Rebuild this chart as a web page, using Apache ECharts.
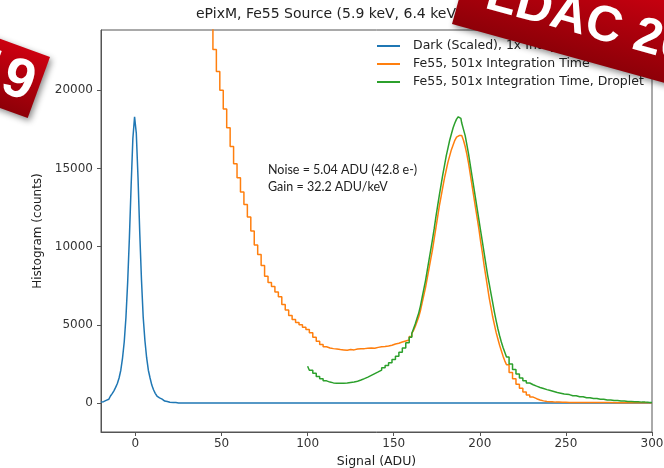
<!DOCTYPE html>
<html>
<head>
<meta charset="utf-8">
<script src="https://cdn.jsdelivr.net/npm/echarts@6/dist/echarts.min.js"></script>
<style>html,body{margin:0;padding:0;background:#fff;}#c{width:664px;height:468px;}</style>
</head>
<body>
<div id="c"></div>
<script>
const titleText = 'ePixM, Fe55 Source (5.9 keV, 6.4 keV)';
const seriesNames = ['Dark (Scaled), 1x Integration Time', 'Fe55, 501x Integration Time', 'Fe55, 501x Integration Time, Droplet'];
const xTicks = [0, 50, 100, 150, 200, 250, 300];
const yTicks = [0, 5000, 10000, 15000, 20000];
const noteLines = ['Noise = 5.04 ADU (42.8 e-)', 'Gain = 32.2 ADU/keV'];

const darkX = [-20,-19,-18,-17,-16,-15,-14,-13,-12,-11,-10,-9,-8,-7,-6,-5,-4,-3,-2,-1,0,1,2,3,4,5,6,7,8,9,10,11,12,13,14,15,16,17,18,19,20,22,25,30,300];
const darkY = [70,90,120,170,240,330,450,600,780,1000,1250,1600,2100,2870,3920,5500,7750,10600,13900,16900,18300,17250,14400,10900,7900,5500,4000,2900,2100,1600,1150,850,620,450,330,250,180,130,100,70,50,30,10,0,0];

const fe55X = [42,44,46,48,50,52,54,56,58,60,62,64,66,68,70,72,74,76,78,80,82,84,86,88,90,92,94,96,98,100,102,104,106,108,110,112,114,116,118,120,122,124,126,128,130,132,134,136,138,140,142,144,146,148,150,152,154,156,158,160,
161,162,163,164,165,166,167,168,169,170,171,172,173,174,175,176,177,178,179,180,181,182,183,184,185,186,187,188,189,190,191,192,193,194,195,196,197,198,199,200,201,202,203,204,205,206,207,208,209,210,211,212,213,214,215,216,218,220,222,224,226,228,230,232,234,236,238,240,244,248,252,260,270,280,290,300];
const fe55Y = [25200,24200,22600,21200,20000,18800,17600,16400,15300,14400,13500,12700,11900,11000,10100,9500,8800,8100,7700,7450,7100,6800,6300,5950,5600,5350,5150,5000,4850,4700,4500,4200,3950,3750,3600,3520,3480,3450,3420,3400,3380,3420,3400,3450,3470,3480,3500,3520,3500,3560,3600,3620,3650,3700,3780,3820,3900,3970,4030,4250,
4450,4650,4900,5200,5500,5900,6400,6900,7400,8000,8600,9200,9800,10500,11200,11900,12600,13200,13800,14400,14900,15400,15800,16200,16500,16800,17000,17100,17100,17000,16800,16400,15900,15300,14600,13900,13200,12500,11800,11100,10300,9600,8800,8100,7400,6700,6100,5500,5000,4500,4100,3700,3350,3000,2700,2450,1950,1550,1200,950,700,520,380,280,200,140,100,80,60,50,40,35,30,25,20,15];

const dropX = [100,102,104,106,108,110,112,114,116,118,120,122,124,126,128,130,132,134,136,138,140,142,144,146,148,150,152,154,156,158,160,
161,162,163,164,165,166,167,168,169,170,171,172,173,174,175,176,177,178,179,180,181,182,183,184,185,186,187,188,189,190,191,192,193,194,195,196,197,198,199,200,201,202,203,204,205,206,207,208,209,210,211,212,213,214,215,216,218,220,222,224,226,228,230,232,234,236,238,240,242,244,246,248,250,254,258,262,266,270,274,278,282,286,290,294,298,300];
const dropY = [2350,2100,1900,1700,1550,1420,1340,1290,1270,1260,1270,1290,1320,1350,1400,1470,1560,1660,1770,1880,1990,2110,2250,2400,2570,2780,3000,3250,3520,3850,4200,
4450,4750,5050,5400,5750,6200,6750,7300,7850,8500,9150,9800,10450,11150,11900,12600,13300,13950,14600,15200,15800,16300,16800,17200,17600,17900,18150,18300,18200,17900,17500,17100,16500,15900,15200,14500,13800,13100,12400,11700,11000,10300,9600,8900,8200,7600,7000,6400,5800,5250,4750,4300,3900,3550,3250,2950,2500,2150,1850,1600,1420,1280,1170,1080,1000,930,860,800,740,680,630,580,540,470,400,340,290,240,200,160,130,100,80,60,45,40];

const zip = (xs, ys) => xs.map((x, i) => [x, ys[i]]);
const colors = ['#1f77b4', '#ff7f0e', '#2ca02c'];
const axisCol = '#555';
const tickFont = {fontFamily: 'DejaVu Sans', fontSize: 12, color: '#333'};

const chart = echarts.init(document.getElementById('c'), null, {renderer: 'canvas'});
const series = [zip(darkX, darkY), zip(fe55X, fe55Y), zip(dropX, dropY)].map((d, i) => ({
  name: seriesNames[i], type: 'line', step: 'middle', showSymbol: false, symbol: 'none',
  data: d, lineStyle: {color: colors[i], width: 1.5}, itemStyle: {color: colors[i]},
  z: 2 + i, clip: true, animation: false
}));

const bannerFill = () => new echarts.graphic.LinearGradient(0, 0, 0, 1, [{offset: 0, color: '#cc0010'}, {offset: 1, color: '#8e0008'}]);

chart.setOption({
  animation: false,
  backgroundColor: '#fff',
  grid: {left: 101, top: 30, width: 551, height: 402, containLabel: false, outerBoundsMode: 'none',
    show: true, borderColor: axisCol, borderWidth: 1, backgroundColor: 'transparent'},
  xAxis: {
    type: 'value', min: -20, max: 300,
    axisLine: {show: true, onZero: false, lineStyle: {color: axisCol}},
    axisTick: {show: true, length: 4, lineStyle: {color: axisCol}, customValues: xTicks},
    axisLabel: Object.assign({margin: 6, customValues: xTicks, formatter: v => String(v)}, tickFont),
    splitLine: {show: false},
    name: 'Signal (ADU)', nameLocation: 'middle', nameGap: 23,
    nameTextStyle: {fontFamily: 'DejaVu Sans', fontSize: 12.5, color: '#222'}
  },
  yAxis: {
    type: 'value', min: -1850, max: 23850,
    axisLine: {show: true, onZero: false, lineStyle: {color: axisCol}},
    axisTick: {show: true, length: 4, lineStyle: {color: axisCol}, customValues: yTicks},
    axisLabel: Object.assign({margin: 8, customValues: yTicks, formatter: v => String(v)}, tickFont),
    splitLine: {show: false},
    name: 'Histogram (counts)', nameLocation: 'middle', nameGap: 52, nameRotate: 90,
    nameTextStyle: {fontFamily: 'DejaVu Sans', fontSize: 12, color: '#222'}
  },
  legend: {
    orient: 'vertical', left: 377, top: 39, itemWidth: 23, itemHeight: 2, itemGap: 4,
    icon: 'rect', data: seriesNames, z: 4,
    textStyle: {fontFamily: 'DejaVu Sans', fontSize: 12.5, color: '#222', lineHeight: 14, padding: [0, 0, 0, 8]},
    padding: 0, selectedMode: false
  },
  series: series,
  graphic: [
    {type: 'text', left: 196, top: 7, z: 10, style: {text: titleText, fontFamily: 'DejaVu Sans', fontSize: 14, fill: '#222'}},
    {type: 'text', x: 268, y: 170, z: 10, style: {text: noteLines[0], fontFamily: 'Lato', fontSize: 12.5, fill: '#222', verticalAlign: 'middle'}},
    {type: 'text', x: 268, y: 187, z: 10, style: {text: noteLines[1], fontFamily: 'Lato', fontSize: 12.5, fill: '#222', verticalAlign: 'middle'}},
    {
      type: 'group', x: 50, y: 57, rotation: -0.35, z: 100, zlevel: 1,
      children: [
        {type: 'rect', z: 100, zlevel: 1, shape: {x: -300, y: 0, width: 300, height: 65},
          style: {fill: bannerFill(), shadowBlur: 6, shadowColor: 'rgba(0,0,0,0.45)', shadowOffsetX: 2, shadowOffsetY: 3}},
        {type: 'text', z: 101, zlevel: 1, style: {text: '2019', x: -6, y: 34, align: 'right', verticalAlign: 'middle', fontFamily: 'Liberation Sans', fontWeight: 'bold', fontSize: 56, fill: '#fff'}}
      ]
    },
    {
      type: 'group', x: 452, y: 24, rotation: -0.27, z: 100, zlevel: 1,
      children: [
        {type: 'rect', z: 100, zlevel: 1, shape: {x: 0, y: -90, width: 420, height: 90},
          style: {fill: bannerFill(), shadowBlur: 6, shadowColor: 'rgba(0,0,0,0.45)', shadowOffsetX: 2, shadowOffsetY: 3}},
        {type: 'text', z: 101, zlevel: 1, style: {text: 'LDAC 2019', x: 26, y: -38, align: 'left', verticalAlign: 'middle', fontFamily: 'Liberation Sans', fontWeight: 'bold', fontSize: 50, fill: '#fff'}}
      ]
    }
  ]
});
</script>
</body>
</html>
